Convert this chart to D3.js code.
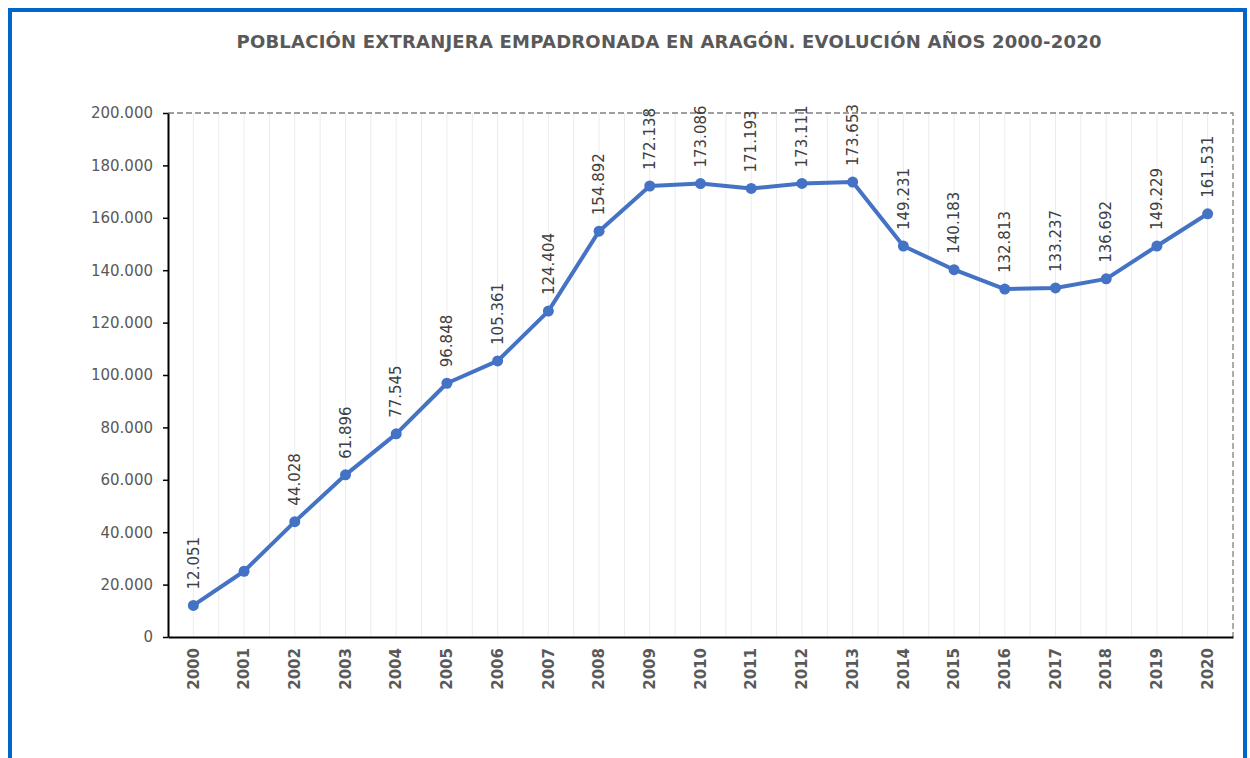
<!DOCTYPE html>
<html>
<head>
<meta charset="utf-8">
<script src="https://cdn.jsdelivr.net/npm/d3@7"></script>
<style>
  body { margin: 0; background: #fff; }
  svg { display: block; font-family: "DejaVu Sans", Verdana, sans-serif; }
</style>
</head>
<body>
<svg id="chart" width="1250" height="758"></svg>
<script>
const years = ['2000', '2001', '2002', '2003', '2004', '2005', '2006', '2007', '2008', '2009', '2010',
  '2011', '2012', '2013', '2014', '2015', '2016', '2017', '2018', '2019', '2020'];
const population = [12051, 25100, 44028, 61896, 77545, 96848, 105361, 124404, 154892, 172138, 173086,
  171193, 173111, 173653, 149231, 140183, 132813, 133237, 136692, 149229, 161531];
// 2001 has no data label in the original
const showLabel = [true, false, true, true, true, true, true, true, true, true, true,
  true, true, true, true, true, true, true, true, true, true];
const yTicks = [0, 20000, 40000, 60000, 80000, 100000, 120000, 140000, 160000, 180000, 200000];
const title = 'POBLACIÓN EXTRANJERA EMPADRONADA EN ARAGÓN. EVOLUCIÓN AÑOS 2000-2020';

const svg = d3.select('#chart');
const margin = { left: 168, right: 1233, top: 113, bottom: 637 };
const fmt = v => v === 0 ? '0' : d3.format(',')(v).replace(/,/g, '.');

// outer blue frame
svg.append('rect')
  .attr('x', 10).attr('y', 10)
  .attr('width', 1235).attr('height', 800)
  .attr('fill', 'none')
  .attr('stroke', '#0066cc')
  .attr('stroke-width', 4);

svg.append('text')
  .attr('x', 669).attr('y', 48)
  .attr('text-anchor', 'middle')
  .attr('font-size', 18)
  .attr('font-weight', 'bold')
  .attr('fill', '#595959')
  .attr('textLength', 865)
  .attr('lengthAdjust', 'spacing')
  .text(title);

const x = d3.scaleBand().domain(years).range([margin.left, margin.right]).paddingInner(0).paddingOuter(0);
const y = d3.scaleLinear().domain([0, 200000]).range([margin.bottom, margin.top]);
const cx = d => x(d) + x.bandwidth() / 2;

// light vertical gridlines at band centres and edges
const gridX = [];
years.forEach((yr, i) => {
  if (i > 0) gridX.push(x(yr));
  gridX.push(cx(yr));
});
svg.append('g')
  .selectAll('line')
  .data(gridX)
  .join('line')
  .attr('x1', d => d).attr('x2', d => d)
  .attr('y1', margin.top).attr('y2', margin.bottom)
  .attr('stroke', '#ebebeb')
  .attr('stroke-width', 1);

// dashed plot border (top and right)
svg.append('path')
  .attr('d', `M${margin.left},${margin.top}H${margin.right}V${margin.bottom}`)
  .attr('fill', 'none')
  .attr('stroke', '#7f7f7f')
  .attr('stroke-width', 1.3)
  .attr('stroke-dasharray', '6,3');

// y axis
const yAxis = svg.append('g')
  .attr('transform', `translate(${margin.left},0)`)
  .call(d3.axisLeft(y).tickValues(yTicks).tickFormat(fmt).tickSizeOuter(0).tickSizeInner(5).tickPadding(10));
yAxis.select('.domain').attr('stroke', '#000').attr('stroke-width', 2);
yAxis.selectAll('.tick line').attr('stroke', '#000').attr('stroke-width', 1.5);
yAxis.selectAll('.tick text').attr('font-size', 15).attr('fill', '#595959')
  .attr('font-family', '"DejaVu Sans", Verdana, sans-serif');

// x axis
const xAxis = svg.append('g')
  .attr('transform', `translate(0,${margin.bottom})`)
  .call(d3.axisBottom(x).tickSize(0).tickSizeOuter(0));
xAxis.select('.domain').attr('stroke', '#000').attr('stroke-width', 2);
xAxis.selectAll('.tick text')
  .attr('font-size', 15)
  .attr('font-weight', 'bold')
  .attr('fill', '#595959')
  .attr('font-family', '"DejaVu Sans", Verdana, sans-serif')
  .attr('text-anchor', 'end')
  .attr('dy', '0.35em')
  .attr('transform', 'translate(0,11) rotate(-90)')
  .attr('x', 0).attr('y', 0);

const data = years.map((yr, i) => ({ year: yr, value: population[i], label: showLabel[i] }));

svg.append('path')
  .datum(data)
  .attr('fill', 'none')
  .attr('stroke', '#4472c4')
  .attr('stroke-width', 4)
  .attr('stroke-linejoin', 'round')
  .attr('d', d3.line().x(d => cx(d.year)).y(d => y(d.value)));

svg.append('g')
  .selectAll('circle')
  .data(data)
  .join('circle')
  .attr('cx', d => cx(d.year))
  .attr('cy', d => y(d.value))
  .attr('r', 5.5)
  .attr('fill', '#4472c4');

svg.append('g')
  .selectAll('text')
  .data(data.filter(d => d.label))
  .join('text')
  .attr('transform', d => `translate(${cx(d.year)},${y(d.value) - 16}) rotate(-90)`)
  .attr('dy', '0.35em')
  .attr('font-size', 15)
  .attr('fill', '#404040')
  .text(d => fmt(d.value));
</script>
</body>
</html>
